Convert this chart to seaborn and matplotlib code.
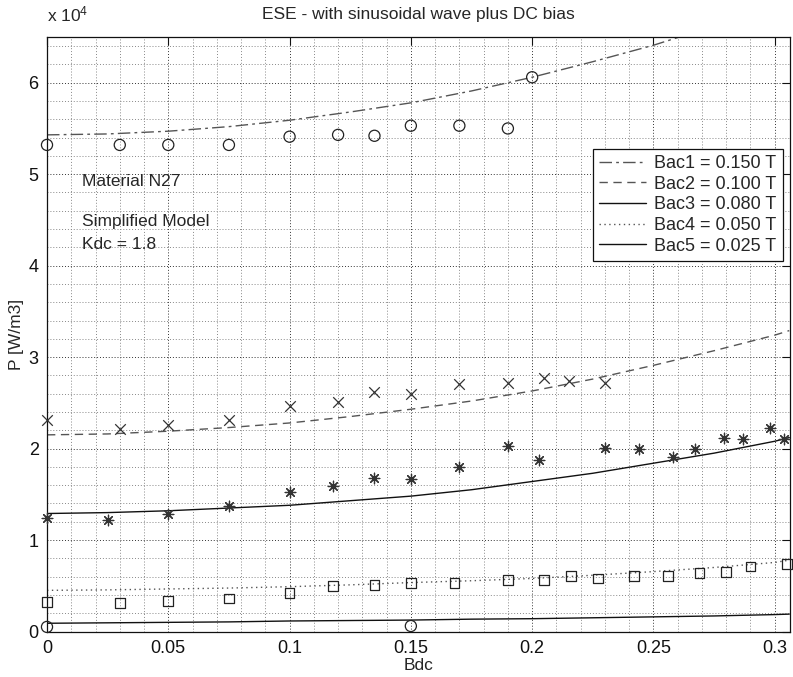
import numpy as np
import pandas as pd
import matplotlib
matplotlib.use("Agg")
import matplotlib.pyplot as plt
from matplotlib.ticker import MultipleLocator, FuncFormatter
import seaborn as sns

# ---------------- data ----------------
labels = ["Bac1 = 0.150 T", "Bac2 = 0.100 T", "Bac3 = 0.080 T",
          "Bac4 = 0.050 T", "Bac5 = 0.025 T"]

# measured points
b1_x = [0, 0.03, 0.05, 0.075, 0.1, 0.12, 0.135, 0.15, 0.17, 0.19, 0.2]
b1_p = [53200, 53200, 53200, 53200, 54100, 54300, 54200, 55300, 55300, 55000, 60600]

b2_x = [0, 0.03, 0.05, 0.075, 0.1, 0.12, 0.135, 0.15, 0.17, 0.19, 0.205, 0.215, 0.23]
b2_p = [23100, 22100, 22600, 23100, 24700, 25100, 26200, 26000, 27100, 27200, 27700, 27400, 27200]

b3_x = [0, 0.025, 0.05, 0.075, 0.1, 0.118, 0.135, 0.15, 0.17, 0.19, 0.203,
        0.23, 0.244, 0.258, 0.267, 0.279, 0.287, 0.298, 0.304]
b3_p = [12400, 12200, 12900, 13700, 15200, 15900, 16800, 16700, 18000, 20300, 18800,
        20100, 19900, 19100, 20000, 21200, 21000, 22200, 21000]

b4_x = [0, 0.03, 0.05, 0.075, 0.1, 0.118, 0.135, 0.15, 0.168, 0.19, 0.205,
        0.216, 0.227, 0.242, 0.256, 0.269, 0.28, 0.29, 0.305]
b4_p = [3200, 3100, 3300, 3600, 4200, 5000, 5100, 5300, 5300, 5600, 5600,
        6100, 5800, 6100, 6100, 6400, 6500, 7100, 7400]

b5_x = [0, 0.15]
b5_p = [500, 600]

# model curves
m_x = [0, 0.025, 0.05, 0.075, 0.1, 0.125, 0.15, 0.175, 0.2, 0.225, 0.25, 0.275, 0.3, 0.306]
m1_p = [54300, 54400, 54700, 55200, 55900, 56800, 57800, 59100, 60600, 62300, 64100, 66200, 68500, 69000]
m2_p = [21500, 21600, 21900, 22300, 22800, 23500, 24300, 25200, 26300, 27600, 29100, 30700, 32400, 32900]
m3_p = [12900, 13000, 13200, 13500, 13800, 14300, 14800, 15500, 16400, 17300, 18400, 19500, 20800, 21200]
m4_p = [4500, 4550, 4650, 4750, 4900, 5100, 5350, 5550, 5800, 6150, 6550, 7000, 7550, 7800]
m5_p = [900, 950, 1000, 1050, 1150, 1200, 1250, 1350, 1400, 1500, 1600, 1700, 1850, 1900]

# ---------------- style ----------------
sns.set_style("white")
plt.rcParams["font.family"] = ["Liberation Sans", "DejaVu Sans"]
plt.rcParams["mathtext.default"] = "regular"
FS = 12.5

fig = plt.figure(figsize=(7.93, 6.77), dpi=100)
ax = fig.add_axes([47 / 793, (677 - 631.5) / 677, (790 - 47) / 793, (631.5 - 37) / 677])

line_styles = [(0, (9, 3, 2, 3)), (0, (6, 4)), "-", (0, (1, 2.5)), "-"]
line_colors = ["#555555", "#555555", "#111111", "#555555", "#111111"]
models = [m1_p, m2_p, m3_p, m4_p, m5_p]

for lab, mp, ls, c in zip(labels, models, line_styles, line_colors):
    df = pd.DataFrame({"Bdc": m_x, "P": mp})
    sns.lineplot(data=df, x="Bdc", y="P", ax=ax, color=c, linestyle=ls,
                 linewidth=1.0, label=lab)

pts = [(b1_x, b1_p, "o"), (b2_x, b2_p, "x"), (b3_x, b3_p, (8, 2, 0)),
       (b4_x, b4_p, "s"), (b5_x, b5_p, "o")]
for xs, ps, mk in pts:
    df = pd.DataFrame({"Bdc": xs, "P": ps})
    if mk in ("o", "s"):
        sns.scatterplot(data=df, x="Bdc", y="P", ax=ax, marker=mk,
                        s=64 if mk == "o" else 50,
                        facecolor="none", edgecolor="#222222", linewidth=0.9,
                        legend=False, clip_on=False, zorder=4)
    else:
        sns.scatterplot(data=df, x="Bdc", y="P", ax=ax, marker=mk,
                        s=58, color="#333333", linewidth=0.9,
                        legend=False, clip_on=False, zorder=4)

ax.set_xlim(0, 0.3063)
ax.set_ylim(0, 65000)

ax.xaxis.set_major_locator(MultipleLocator(0.05))
ax.xaxis.set_minor_locator(MultipleLocator(0.01))
ax.yaxis.set_major_locator(MultipleLocator(10000))
ax.yaxis.set_minor_locator(MultipleLocator(2000))
ax.xaxis.set_major_formatter(FuncFormatter(lambda v, p: f"{v:g}"))
ax.yaxis.set_major_formatter(FuncFormatter(lambda v, p: f"{v / 1e4:g}"))

ax.grid(True, which="major", color="#333333", linestyle=(0, (1, 2)), linewidth=0.7)
ax.grid(True, which="minor", color="#888888", linestyle=(0, (1, 2)), linewidth=0.7)
ax.tick_params(which="major", direction="in", length=6, width=0.8, top=True, right=True,
               labelsize=FS + 0.5, colors="#111111", pad=6)
ax.tick_params(which="minor", length=0, top=True, right=True)
for sp in ax.spines.values():
    sp.set_color("#111111")
    sp.set_linewidth(0.9)

ax.set_xlabel("Bdc", fontsize=FS, labelpad=1)
ax.set_ylabel("P [W/m3]", fontsize=FS, labelpad=3)
ax.set_title("ESE - with sinusoidal wave plus DC bias", fontsize=FS, pad=13)
ax.text(0.0, 1.022, r"x 10$^{4}$", transform=ax.transAxes, fontsize=FS,
        ha="left", va="bottom")

ax.text(0.0145, 49200, "Material N27", fontsize=FS, va="center")
ax.text(0.0145, 44800, "Simplified Model", fontsize=FS, va="center")
ax.text(0.0145, 42300, "Kdc = 1.8", fontsize=FS, va="center")

leg = ax.legend(loc="upper left", bbox_to_anchor=(0.735, 0.812), fontsize=FS + 0.5,
                frameon=True, fancybox=False, shadow=False, framealpha=1,
                edgecolor="#111111", handlelength=2.6, labelspacing=0.2,
                borderpad=0.35, handletextpad=0.45, borderaxespad=0)
leg.get_frame().set_linewidth(0.9)

fig.savefig("out.png", dpi=100)
